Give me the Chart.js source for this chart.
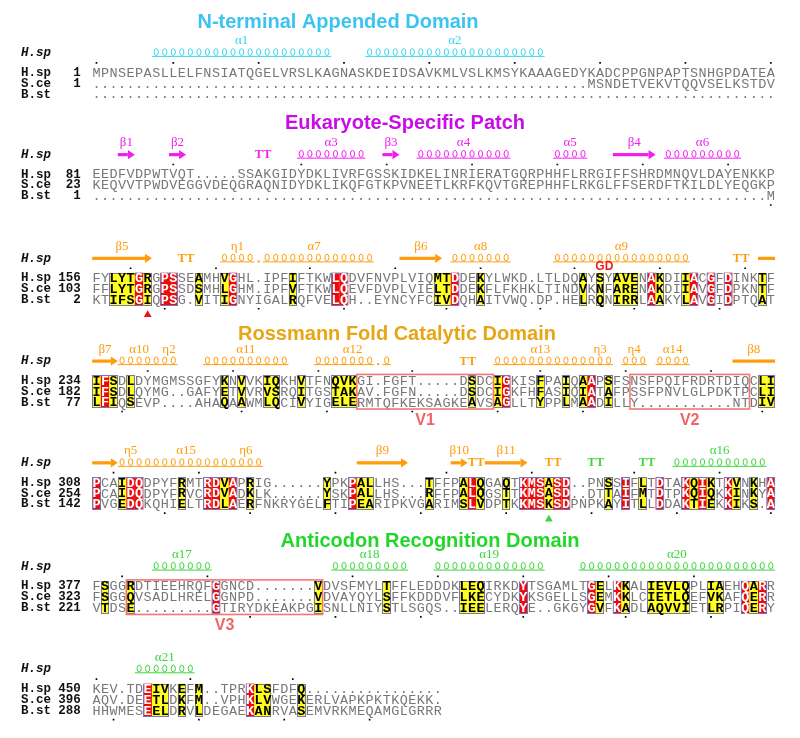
<!DOCTYPE html>
<html>
<head>
<meta charset="utf-8">
<title>Sequence alignment</title>
<script src="https://cdn.jsdelivr.net/npm/chart.js@4.4.1/dist/chart.umd.min.js"></script>
<style>
  html, body { margin: 0; padding: 0; background: #ffffff; }
  #alignment { display: block; }
</style>
</head>
<body>
<canvas id="alignment" width="800" height="738"></canvas>
<script>
// =============================================
//  Alignment data (one entry per alignment block)
// =============================================

const SEQ_NAMES = ["H.sp", "S.ce", "B.st"];

const START_HSP = [1, 81, 156, 234, 308, 377, 450];
const START_SCE = [1, 23, 103, 182, 254, 323, 396];
const START_BST = [1, 1, 2, 77, 142, 221, 288];

const SEQ_HSP = [
  "MPNSEPASLLELFNSIATQGELVRSLKAGNASKDEIDSAVKMLVSLKMSYKAAAGEDYKADCPPGNPAPTSNHGPDATEA",
  "EEDFVDPWTVQT.....SSAKGIDYDKLIVRFGSSKIDKELINRIERATGQRPHHFLRRGIFFSHRDMNQVLDAYENKKP",
  "FYLYTGRGPSSEAMHVGHL.IPFIFTKWLQDVFNVPLVIQMTDDEKYLWKD.LTLDQAYSYAVENAKDIIACGFDINKTF",
  "IFSDLDYMGMSSGFYKNVVKIQKHVTFNQVKGI.FGFT.....DSDCIGKISFPAIQAAPSFSNSFPQIFRDRTDIQCLI",
  "PCAIDQDPYFRMTRDVAPRIG......YPKPALLHS...TFFPALQGAQTKMSASD..PNSSIFLTDTAKQIKTKVNKHA",
  "FSGGRDTIEEHRQFGGNCD.......VDVSFMYLTFFLEDDDKLEQIRKDYTSGAMLTGELKKALIEVLQPLIAEHQARR",
  "KEV.TDEIVKEFM..TPRKLSFDFQ................",
];

const SEQ_SCE = [
  "..........................................................MSNDETVEKVTQQVSELKSTDV",
  "KEQVVTPWDVEGGVDEQGRAQNIDYDKLIKQFGTKPVNEETLKRFKQVTGREPHHFLRKGLFFSERDFTKILDLYEQGKP",
  "FFLYTGRGPSSDSMHLGHM.IPFVFTKWLQEVFDVPLVIELTDDEKFLFKHKLTINDVKNFARENAKDIIAVGFDPKNTF",
  "IFSDLQYMG..GAFYETVVRVSRQITGSTAKAV.FGFN.....DSDCIGKFHFASIQIATAFPSSFPNVLGLPDKTPCLI",
  "PCAIDQDPYFRVCRDVADKLK......YSKPALLHS...RFFPALQGSTTKMSASD..DTTAIFMTDTPKQIQKKINKYA",
  "FSGGQVSADLHRELGGNPD.......VDVAYQYLSFFKDDDVFLKECYDKYKSGELLSGEMKKLCIETLQEFVKAFQERR",
  "AQV.DEETLDKFM..VPHKLVWGEKERLVAPKPKTKQEKK.",
];

const SEQ_BST = [
  "................................................................................",
  "...............................................................................M",
  "KTIFSGIQPSG.VITIGNYIGALRQFVELQH..EYNCYFCIVDQHAITVWQ.DP.HELRQNIRRLAAKYLAVGIDPTQAT",
  "LFIQSEVP....AHAQAAWMLQCIVYIGELERMTQFKEKSAGKEAVSAGLLTYPPLMAADILLY...........NTDIV",
  "PVGEDQKQHIELTRDLAERFNKRYGELFTIPEARIPKVGARIMSLVDPTKKMSKSDPNPKAYITLLDDAKTIEKKIKS.A",
  "VTDSE.........GTIRYDKEAKPGISNLLNIYSTLSGQS..IEELERQYE..GKGYGVFKADLAQVVIETLRPIQERY",
  "HHWMESEELDRVLDEGAEKANRVASEMVRKMEQAMGLGRRR",
];

// Columns with strict identity (red) and similarity (yellow)
const RED_COLS = [
  [],
  [],
  [5, 8, 9, 16, 28, 29, 42, 65, 70, 72, 74],
  [1, 48, 58],
  [0, 4, 5, 13, 14, 16, 30, 44, 50, 51, 52, 54, 55, 62, 66, 69, 71, 74, 79],
  [14, 50, 58, 61, 76, 78],
  [6, 18],
];

const YELLOW_COLS = [
  [],
  [],
  [2, 3, 4, 6, 12, 15, 23, 40, 41, 45, 57, 59, 61, 62, 63, 66, 69, 78],
  [0, 2, 4, 15, 17, 20, 21, 24, 28, 29, 30, 44, 47, 52, 55, 57, 60, 78, 79],
  [3, 10, 15, 18, 27, 31, 32, 39, 43, 45, 48, 53, 60, 64, 70, 72, 75, 77],
  [1, 4, 26, 34, 43, 44, 45, 59, 62, 65, 66, 67, 68, 69, 72, 73, 77],
  [7, 8, 10, 12, 19, 20, 24],
];

// Secondary structure of H.sp: [type, first col, last col, label, domain]
const SS_ELEMENTS = [
  [["helix", 7, 27, "α1", "nterm"], ["helix", 32, 52, "α2", "nterm"]],
  [["arrow", 3, 4, "β1", "euk"], ["arrow", 9, 10, "β2", "euk"], ["turn", 19, 20, "", "euk"],
   ["helix", 24, 31, "α3", "euk"], ["arrow", 34, 35, "β3", "euk"], ["helix", 38, 48, "α4", "euk"],
   ["helix", 54, 57, "α5", "euk"], ["arrow", 61, 65, "β4", "euk"], ["helix", 67, 75, "α6", "euk"]],
  [["arrow", 0, 6, "β5", "ross"], ["turn", 10, 11, "", "ross"], ["helix", 15, 18, "η1", "ross"],
   ["helix", 19, 32, "α7", "ross"], ["arrow", 36, 40, "β6", "ross"], ["helix", 42, 48, "α8", "ross"],
   ["helix", 54, 69, "α9", "ross"], ["turn", 75, 76, "", "ross"], ["line", 78, 79, "", "ross"]],
  [["arrow", 0, 2, "β7", "ross"], ["helix", 3, 7, "α10", "ross"], ["helix", 8, 9, "η2", "ross"],
   ["helix", 13, 22, "α11", "ross"], ["helix", 26, 34, "α12", "ross"], ["turn", 43, 44, "", "ross"],
   ["helix", 47, 57, "α13", "ross"], ["helix", 58, 60, "η3", "ross"], ["helix", 62, 64, "η4", "ross"],
   ["helix", 66, 69, "α14", "ross"], ["line", 75, 79, "β8", "ross"]],
  [["arrow", 0, 2, "", "ross"], ["helix", 3, 5, "η5", "ross"], ["helix", 6, 15, "α15", "ross"],
   ["helix", 16, 19, "η6", "ross"], ["arrow", 31, 36, "β9", "ross"], ["arrow", 42, 43, "β10", "ross"],
   ["turn", 44, 45, "", "ross"], ["arrow", 46, 50, "β11", "ross"], ["turn", 53, 54, "", "ross"],
   ["turn", 58, 59, "", "anti"], ["turn", 64, 65, "", "anti"], ["helix", 68, 78, "α16", "anti"]],
  [["helix", 7, 13, "α17", "anti"], ["helix", 28, 36, "α18", "anti"],
   ["helix", 40, 52, "α19", "anti"], ["helix", 57, 79, "α20", "anti"]],
  [["helix", 5, 11, "α21", "anti"]],
];

// Variable regions: [block, first col, last col, label]
const VAR_REGIONS = [[3, 31, 46, "V1"], [3, 63, 76, "V2"], [5, 4, 26, "V3"]];

// Insertion note and residue markers: [block, col(s), ...]
const INSERTIONS = [[2, 59, 60, "GD"]];
const MARKERS    = [[2, 6, "euk2"], [4, 53, "anti"]];

const DOMAIN_TITLES = [
  [0, "N-terminal Appended Domain", "nterm"],
  [1, "Eukaryote-Specific Patch", "euk"],
  [3, "Rossmann Fold Catalytic Domain", "ross"],
  [5, "Anticodon Recognition Domain", "anti"],
];

// =============================================
//  Layout and styles
// =============================================

const LAYOUT = {
  rowY:    [69, 172, 277, 381, 484, 589, 693],
  rowGap:  11,
  titleXY: [[338, 22], [405, 123], [397, 334], [430, 541]],
  xMin:    -10.773,
  xMax:    81.894,
  nameCol: -8.85,
  numCol:  -1.85,
};

const DOMAIN_COLORS = {
  nterm: { title: "#3cc4f0", ss: "#35d6f0" },
  euk:   { title: "#c90ce8", ss: "#f31df0" },
  euk2:  { title: "#ee1111", ss: "#ee1111" },
  ross:  { title: "#e6a616", ss: "#ff9c0c" },
  anti:  { title: "#22d72a", ss: "#3ad63a" },
};

const STYLE = {
  red:      "#ec0a0a",
  yellow:   "#ffff1a",
  frame:    "#7474c4",
  grey:     "#777777",
  varBox:   "#f27878",
  varText:  "#f06464",
  seqFont:  "13.5px 'Liberation Mono', 'Courier New', monospace",
  seqBold:  "bold 13.5px 'Liberation Mono', 'Courier New', monospace",
  nameFont: "bold 12.5px 'Liberation Mono', 'Courier New', monospace",
  ssName:   "italic bold 12.5px 'Liberation Mono', 'Courier New', monospace",
  ssLabel:  "13px 'Liberation Serif', 'Times New Roman', serif",
  turnFont: "bold 12px 'Liberation Serif', 'Times New Roman', serif",
  title:    "bold 20px 'Liberation Sans', Arial, sans-serif",
};

// =============================================
//  Points drawn as Chart.js datasets
// =============================================

function tickDots() {
  const pts = [];
  const add = (seqs, starts, offset) => {
    seqs.forEach((seq, b) => {
      let n = starts[b] - 1;
      [...seq].forEach((ch, c) => {
        if (ch === ".") return;
        n++;
        if (n === 1 || n % 10 === 0) pts.push({ x: c, y: LAYOUT.rowY[b] + offset });
      });
    });
  };
  add(SEQ_HSP, START_HSP, -10);
  add(SEQ_BST, START_BST, 2 * LAYOUT.rowGap + 9);
  return pts;
}

const markerData = MARKERS.map(([b, c]) => ({ x: c, y: LAYOUT.rowY[b] + 37 }));

// =============================================
//  Plugin that paints the alignment through the scales
// =============================================

const alignmentPlugin = {
  id: "alignment",
  beforeDatasetsDraw(chart) {
    const { ctx, scales: { x, y } } = chart;
    const px   = c => x.getPixelForValue(c);
    const py   = v => y.getPixelForValue(v);
    const half = (px(1) - px(0)) / 2;
    const gap  = LAYOUT.rowGap;

    ctx.save();
    ctx.textBaseline = "middle";

    // Domain titles
    ctx.font = STYLE.title;
    ctx.textAlign = "center";
    DOMAIN_TITLES.forEach(([, text, dom], i) => {
      ctx.fillStyle = DOMAIN_COLORS[dom].title;
      ctx.fillText(text, LAYOUT.titleXY[i][0], LAYOUT.titleXY[i][1]);
    });

    SEQ_HSP.forEach((_, b) => {
      const Y    = LAYOUT.rowY[b];
      const seqs = [SEQ_HSP[b], SEQ_SCE[b], SEQ_BST[b]];
      const starts = [START_HSP[b], START_SCE[b], START_BST[b]];
      const top  = py(Y - gap / 2);
      const bot  = py(Y + 2 * gap + gap / 2);

      // Cell backgrounds
      const kind = {};
      RED_COLS[b].forEach(c => { kind[c] = "r"; });
      YELLOW_COLS[b].forEach(c => { kind[c] = "y"; });
      Object.keys(kind).forEach(k => {
        const c = +k;
        ctx.fillStyle = kind[c] === "r" ? STYLE.red : STYLE.yellow;
        ctx.fillRect(px(c) - half, top, 2 * half, bot - top);
      });

      // Blue frames round each run of marked columns
      const cols = Object.keys(kind).map(Number).sort((a, b2) => a - b2);
      ctx.strokeStyle = STYLE.frame;
      ctx.lineWidth = 1;
      let i = 0;
      while (i < cols.length) {
        let j = i;
        while (j + 1 < cols.length && cols[j + 1] === cols[j] + 1) j++;
        const x0 = Math.round(px(cols[i]) - half) + 0.5;
        const x1 = Math.round(px(cols[j]) + half) - 0.5;
        ctx.strokeRect(x0, Math.round(top) + 0.5, x1 - x0, Math.round(bot - top) - 1);
        i = j + 1;
      }

      // Residues, names and numbers
      seqs.forEach((seq, r) => {
        const ry = py(Y + r * gap);
        [...seq].forEach((ch, c) => {
          if (kind[c] === "r") { ctx.font = STYLE.seqBold; ctx.fillStyle = "#ffffff"; }
          else if (kind[c] === "y") { ctx.font = STYLE.seqBold; ctx.fillStyle = "#000000"; }
          else { ctx.font = STYLE.seqFont; ctx.fillStyle = STYLE.grey; }
          ctx.textAlign = "center";
          ctx.fillText(ch, px(c), ry + 0.5);
        });
        ctx.font = STYLE.nameFont;
        ctx.fillStyle = "#111111";
        ctx.textAlign = "left";
        ctx.fillText(SEQ_NAMES[r], px(LAYOUT.nameCol), ry);
        if (/[A-Z]/.test(seq)) {
          ctx.textAlign = "right";
          ctx.fillText(String(starts[r]), px(LAYOUT.numCol), ry);
        }
      });

      // Secondary structure row
      const ssY = py(Y - 20);
      ctx.font = STYLE.ssName;
      ctx.fillStyle = "#111111";
      ctx.textAlign = "left";
      ctx.fillText("H.sp", px(LAYOUT.nameCol), ssY);

      SS_ELEMENTS[b].forEach(([type, a, z, label, dom]) => {
        const col = DOMAIN_COLORS[dom].ss;
        ctx.fillStyle = col;
        ctx.strokeStyle = col;
        const x0 = px(a) - half;
        const x1 = px(z) + half;
        if (type === "helix") {
          const base = ssY + 3;
          ctx.lineWidth = 1;
          for (let c = a; c <= z; c++) {
            if (SEQ_HSP[b][c] === ".") {
              ctx.fillRect(px(c) - 1, base - 1, 2, 2);
              continue;
            }
            ctx.beginPath();
            ctx.ellipse(px(c), base - 3.8, 2.1, 3.4, 0, 0, Math.PI * 2);
            ctx.stroke();
            ctx.beginPath();
            ctx.moveTo(px(c) - half, base + 0.5);
            ctx.lineTo(px(c) + half, base + 0.5);
            ctx.stroke();
          }
        } else if (type === "arrow") {
          const head = 7;
          ctx.fillRect(x0, ssY - 1.6, x1 - head - x0, 3.2);
          ctx.beginPath();
          ctx.moveTo(x1 - head, ssY - 4.6);
          ctx.lineTo(x1, ssY);
          ctx.lineTo(x1 - head, ssY + 4.6);
          ctx.closePath();
          ctx.fill();
        } else if (type === "line") {
          ctx.fillRect(x0, ssY - 1.6, x1 - x0, 3.2);
        } else if (type === "turn") {
          ctx.font = STYLE.turnFont;
          ctx.textAlign = "center";
          for (let c = a; c <= z; c++) ctx.fillText("T", px(c), ssY + 0.5);
        }
        if (label) {
          ctx.font = STYLE.ssLabel;
          ctx.textAlign = "center";
          ctx.fillText(label, px((a + z) / 2), py(Y - 32));
        }
      });
    });

    // Variable regions
    VAR_REGIONS.forEach(([b, a, z, label]) => {
      const Y = LAYOUT.rowY[b];
      const x0 = px(a) - half;
      const x1 = px(z) + half;
      ctx.strokeStyle = STYLE.varBox;
      ctx.lineWidth = 1.6;
      ctx.strokeRect(x0, py(Y - 6.5), x1 - x0, py(Y + 2 * gap + 6.5) - py(Y - 6.5));
      ctx.font = "bold 16px 'Liberation Sans', Arial, sans-serif";
      ctx.fillStyle = STYLE.varText;
      ctx.textAlign = "center";
      ctx.fillText(label, px((a + z) / 2), py(Y + 2 * gap + 18));
    });

    // Insertion note above the alignment
    INSERTIONS.forEach(([b, a, z, text]) => {
      ctx.font = "bold 12px 'Liberation Sans', Arial, sans-serif";
      ctx.fillStyle = "#f01c1c";
      ctx.textAlign = "center";
      ctx.fillText(text, px((a + z) / 2), py(LAYOUT.rowY[b] - 12));
    });

    ctx.restore();
  },
};

// =============================================
//  Chart
// =============================================

new Chart(document.getElementById("alignment"), {
  type: "scatter",
  data: {
    datasets: [
      {
        data:            tickDots(),
        pointRadius:     1.2,
        pointStyle:      "rect",
        backgroundColor: "#000000",
        borderWidth:     0,
      },
      {
        data:            markerData,
        pointRadius:     4.5,
        pointStyle:      "triangle",
        backgroundColor: MARKERS.map(m => DOMAIN_COLORS[m[2]].ss),
        borderWidth:     0,
      },
    ],
  },
  options: {
    responsive: false,
    animation:  false,
    events:     [],
    layout:     { padding: 0 },
    plugins: {
      legend:  { display: false },
      tooltip: { enabled: false },
    },
    scales: {
      x: { type: "linear", min: LAYOUT.xMin, max: LAYOUT.xMax, display: false },
      y: { type: "linear", min: 0, max: 738, reverse: true, display: false },
    },
  },
  plugins: [alignmentPlugin],
});
</script>
</body>
</html>
